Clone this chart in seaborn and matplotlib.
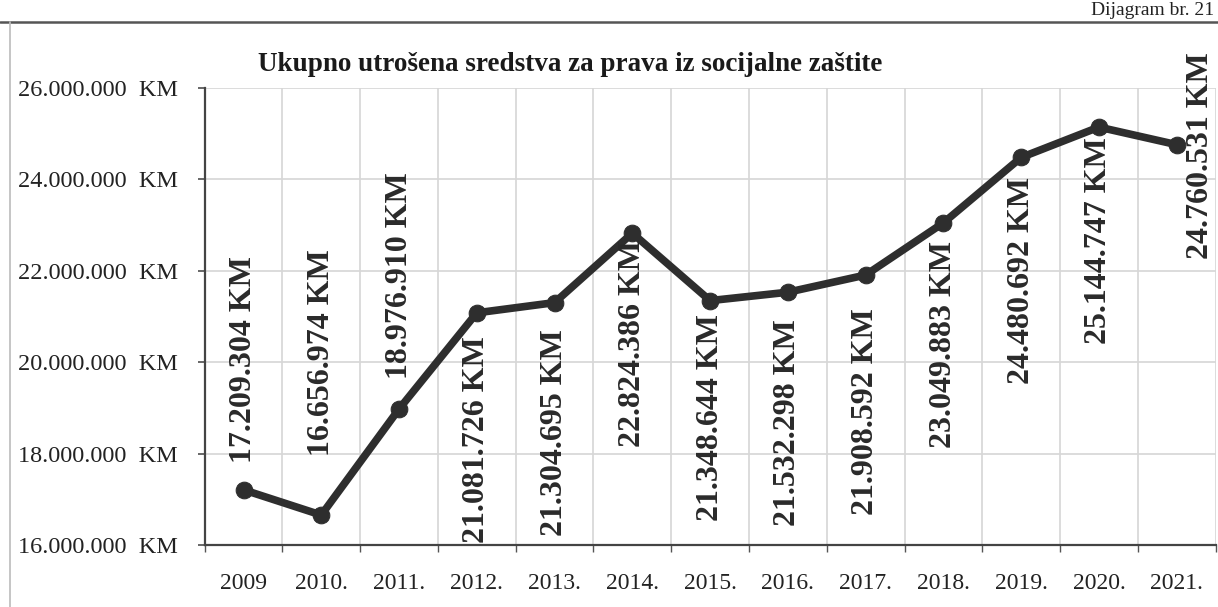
import matplotlib
matplotlib.use("Agg")
import matplotlib.pyplot as plt
from matplotlib.lines import Line2D
from matplotlib.ticker import FuncFormatter, FixedLocator
import seaborn as sns
import pandas as pd
import numpy as np

# ---- data ----
years = ["2009", "2010.", "2011.", "2012.", "2013.", "2014.", "2015.",
         "2016.", "2017.", "2018.", "2019.", "2020.", "2021."]
values = [17209304, 16656974, 18976910, 21081726, 21304695, 22824386,
          21348644, 21532298, 21908592, 23049883, 24480692, 25144747,
          24760531]
title = "Ukupno utrošena sredstva za prava iz socijalne zaštite"
y_ticks = [16000000, 18000000, 20000000, 22000000, 24000000, 26000000]

# ---- layout for data labels (centre of rotated text, in data units) ----
label_y = [20.05e6, 20.22e6, 21.89e6, 18.30e6, 18.47e6, 20.42e6, 18.78e6,
           18.69e6, 18.93e6, 20.38e6, 21.78e6, 22.67e6, 24.53e6]
label_dx = [0, 0, 0, 0, 0, 0, 0, 0, 0, 0, 0, 0, 0.31]

sns.set_theme(style="white")
plt.rcParams["font.family"] = ["Liberation Serif", "DejaVu Serif"]

df = pd.DataFrame({"idx": np.arange(len(years)), "value": values})

fig = plt.figure(figsize=(12.18, 6.07), dpi=100)
ax = fig.add_axes([0.168, 0.102, 0.830, 0.753])

sns.lineplot(data=df, x="idx", y="value", ax=ax, color="#2e2e2e",
             linewidth=5.5, marker="o", markersize=12,
             markeredgecolor="#2e2e2e", markerfacecolor="#2e2e2e", zorder=3)

ax.set_xlim(-0.5, len(years) - 0.5)
ax.set_ylim(y_ticks[0], y_ticks[-1])

ax.xaxis.set_major_locator(FixedLocator(np.arange(len(years))))
ax.set_xticklabels(years)
ax.xaxis.set_minor_locator(FixedLocator(np.arange(-0.5, len(years), 1.0)))
ax.tick_params(axis="x", which="major", length=0, pad=20, labelsize=17,
               labelcolor="#222222")
ax.tick_params(axis="x", which="minor", length=5, direction="out",
               color="#555555", bottom=True)

ax.set_yticks(y_ticks)
ax.yaxis.set_major_formatter(
    FuncFormatter(lambda v, p: f"{int(v):,}".replace(",", ".") + "  KM"))
ax.tick_params(axis="y", length=5, direction="out", color="#555555",
               left=True, pad=14, labelsize=17.5, labelcolor="#222222")

ax.grid(False)
ax.grid(True, axis="y", which="major", color="#d6d6d6", linewidth=1.2)
ax.grid(True, axis="x", which="minor", color="#d6d6d6", linewidth=1.2)

for s in ["top", "right"]:
    ax.spines[s].set_visible(False)
for s in ["left", "bottom"]:
    ax.spines[s].set_color("#444444")
    ax.spines[s].set_linewidth(1.6)

ax.set_xlabel("")
ax.set_ylabel("")

for i, (v, ly, dx) in enumerate(zip(values, label_y, label_dx)):
    txt = f"{v:,}".replace(",", ".") + " KM"
    ax.text(i + dx, ly, txt, rotation=90, ha="center", va="center",
            fontsize=23, fontweight="bold", color="#2a2a2a", zorder=4,
            clip_on=False)

fig.text(0.468, 0.893, title, ha="center", va="center", fontsize=19.5,
         fontweight="bold", color="#1a1a1a")

fig.text(0.997, 0.997, "Dijagram br. 21", ha="right", va="top",
         fontsize=14, color="#222222")

fig.add_artist(Line2D([0.0, 1.0], [0.963, 0.963], transform=fig.transFigure,
                      color="#555555", linewidth=1.8))
fig.add_artist(Line2D([0.008, 0.008], [0.0, 0.963], transform=fig.transFigure,
                      color="#bbbbbb", linewidth=1.2))

fig.savefig("out.png", dpi=100)
